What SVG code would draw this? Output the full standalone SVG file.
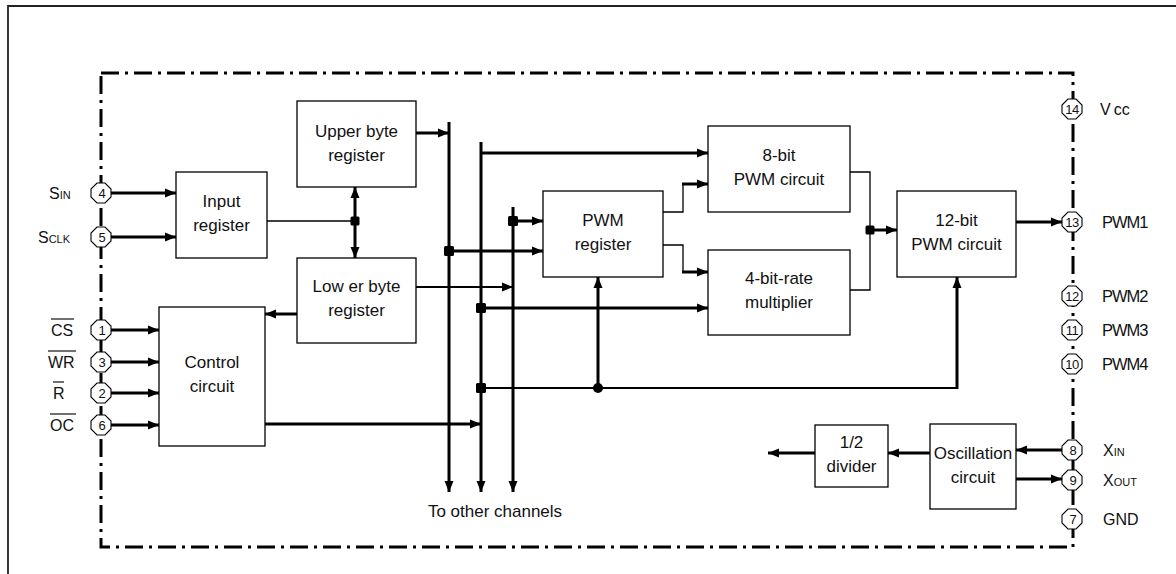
<svg xmlns="http://www.w3.org/2000/svg" width="1176" height="574" viewBox="0 0 1176 574">
<style>
.box{fill:#fff;stroke:#000;stroke-width:1.3}
.t{font-family:"Liberation Sans",Arial,sans-serif;font-size:17px;fill:#111;text-anchor:middle}
.lbl{font-family:"Liberation Sans",Arial,sans-serif;font-size:16px;fill:#111}
.pw{font-size:16.5px;letter-spacing:-1px}
.pn{font-family:"Liberation Sans",Arial,sans-serif;font-size:13px;fill:#111;text-anchor:middle}
.pin{fill:#fff;stroke:#000;stroke-width:1.1}
.th{stroke:#000;stroke-width:3;fill:none}
.tn{stroke:#000;stroke-width:1.3;fill:none}
.md{stroke:#000;stroke-width:2;fill:none}
.arr{marker-end:url(#ah)}
.dot{fill:#000}
.ol{stroke:#111;stroke-width:1.2}
</style>
<defs>
<marker id="ah" markerUnits="userSpaceOnUse" markerWidth="12" markerHeight="10" refX="11" refY="5" orient="auto-start-reverse">
<path d="M0,0.5 L11,5 L0,9.5 z" fill="#000"/>
</marker>
<polygon id="oct" class="pin" points="-4,-10 4,-10 10,-4 10,4 4,10 -4,10 -10,4 -10,-4"/>
</defs>
<path d="M8,574 V6 H1176" fill="none" stroke="#222" stroke-width="1.8"/>
<path id="frame" d="M101,73 H1073 V547 H101 Z" fill="none" stroke="#000" stroke-width="3" stroke-dasharray="18 6 3 6"/>

<g id="connectors">
<line class="th arr" x1="111" y1="193" x2="176" y2="193"/>
<line class="th arr" x1="111" y1="237" x2="176" y2="237"/>
<line class="th arr" x1="111" y1="330" x2="159" y2="330"/>
<line class="th arr" x1="111" y1="362" x2="159" y2="362"/>
<line class="th arr" x1="111" y1="393" x2="159" y2="393"/>
<line class="th arr" x1="111" y1="425" x2="159" y2="425"/>
<line class="tn" x1="267" y1="221" x2="355" y2="221"/>
<line class="th arr" x1="355" y1="221" x2="355" y2="187"/>
<line class="th arr" x1="355" y1="221" x2="355" y2="258"/>
<rect class="dot" x="350.5" y="216.5" width="9" height="9" rx="1.5"/>
<line class="th arr" x1="297" y1="314" x2="265" y2="314"/>
<line class="th arr" x1="416" y1="133" x2="449" y2="133"/>
<line class="th arr" x1="449" y1="122" x2="449" y2="492"/>
<line class="th arr" x1="481" y1="142" x2="481" y2="492"/>
<line class="th arr" x1="513" y1="207" x2="513" y2="492"/>
<line class="th arr" x1="481" y1="153" x2="708" y2="153"/>
<line class="th arr" x1="449" y1="251" x2="543" y2="251"/>
<rect class="dot" x="444" y="246" width="10" height="10" rx="1.5"/>
<line class="th arr" x1="513" y1="221" x2="543" y2="221"/>
<rect class="dot" x="508" y="216" width="10" height="10" rx="1.5"/>
<line class="md arr" x1="416" y1="287" x2="513" y2="287"/>
<line class="th arr" x1="481" y1="308" x2="708" y2="308"/>
<rect class="dot" x="476" y="303" width="10" height="10" rx="1.5"/>
<polyline class="md" points="481,388 957,388"/>
<line class="th arr" x1="957" y1="389" x2="957" y2="277"/>
<rect class="dot" x="476" y="383" width="10" height="10" rx="1.5"/>
<line class="th arr" x1="598" y1="388" x2="598" y2="277"/>
<circle class="dot" cx="598" cy="388" r="5"/>
<line class="th arr" x1="265" y1="424" x2="481" y2="424"/>
<polyline class="tn" points="663,212 683,212 683,184"/>
<line class="th arr" x1="682" y1="184" x2="708" y2="184"/>
<polyline class="tn" points="663,245 683,245 683,272"/>
<line class="th arr" x1="682" y1="272" x2="708" y2="272"/>
<polyline class="tn" points="850,172 870,172 870,290 850,290"/>
<line class="th arr" x1="870" y1="230" x2="897" y2="230"/>
<rect class="dot" x="865.5" y="225.5" width="9" height="9" rx="1.5"/>
<line class="th arr" x1="1016" y1="222" x2="1062" y2="222"/>
<line class="th arr" x1="1062" y1="450" x2="1016" y2="450"/>
<line class="th arr" x1="1014" y1="479" x2="1062" y2="479"/>
<line class="th arr" x1="930" y1="453" x2="888" y2="453"/>
<line class="th arr" x1="815" y1="453" x2="768" y2="453"/>
</g>

<g id="upper-byte-register"><rect class="box" x="297" y="101" width="119" height="86"/><text class="t" x="356.5" y="137">Upper byte</text><text class="t" x="356.5" y="161">register</text></g>
<g id="input-register"><rect class="box" x="176" y="172" width="91" height="86"/><text class="t" x="221.5" y="207">Input</text><text class="t" x="221.5" y="231">register</text></g>
<g id="lower-byte-register"><rect class="box" x="297" y="258" width="119" height="85"/><text class="t" x="356.5" y="292">Low er byte</text><text class="t" x="356.5" y="316">register</text></g>
<g id="control-circuit"><rect class="box" x="159" y="307" width="106" height="139"/><text class="t" x="212" y="368">Control</text><text class="t" x="212" y="392">circuit</text></g>
<g id="pwm-register"><rect class="box" x="543" y="191" width="120" height="86"/><text class="t" x="603" y="226">PWM</text><text class="t" x="603" y="250">register</text></g>
<g id="pwm8"><rect class="box" x="708" y="126" width="142" height="86"/><text class="t" x="779" y="161">8-bit</text><text class="t" x="779" y="185">PWM circuit</text></g>
<g id="rate-multiplier"><rect class="box" x="708" y="250" width="142" height="85"/><text class="t" x="779" y="284">4-bit-rate</text><text class="t" x="779" y="308">multiplier</text></g>
<g id="pwm12"><rect class="box" x="897" y="191" width="119" height="86"/><text class="t" x="956.5" y="226">12-bit</text><text class="t" x="956.5" y="250">PWM circuit</text></g>
<g id="divider"><rect class="box" x="815" y="425" width="73" height="62"/><text class="t" x="851.5" y="448">1/2</text><text class="t" x="851.5" y="472">divider</text></g>
<g id="oscillation"><rect class="box" x="930" y="424" width="86" height="85"/><text class="t" x="973" y="459">Oscillation</text><text class="t" x="973" y="483">circuit</text></g>

<g id="pin4"><use href="#oct" x="101" y="193"/><text class="pn" x="102" y="197.5">4</text><text class="lbl" x="49" y="199">S<tspan font-size="11">IN</tspan></text></g>
<g id="pin5"><use href="#oct" x="101" y="237"/><text class="pn" x="102" y="241.5">5</text><text class="lbl" x="38" y="243">S<tspan font-size="11">CLK</tspan></text></g>
<g id="pin1"><use href="#oct" x="101" y="330"/><text class="pn" x="102" y="334.5">1</text><text class="lbl" x="51" y="336">CS</text><line class="ol" x1="51" y1="319" x2="74" y2="319"/></g>
<g id="pin3"><use href="#oct" x="101" y="362"/><text class="pn" x="102" y="366.5">3</text><text class="lbl" x="48" y="368">WR</text><line class="ol" x1="48" y1="351" x2="76" y2="351"/></g>
<g id="pin2"><use href="#oct" x="101" y="393"/><text class="pn" x="102" y="397.5">2</text><text class="lbl" x="53" y="399">R</text><line class="ol" x1="53" y1="382" x2="64" y2="382"/></g>
<g id="pin6"><use href="#oct" x="101" y="425"/><text class="pn" x="102" y="429.5">6</text><text class="lbl" x="50" y="431">OC</text><line class="ol" x1="50" y1="414" x2="76" y2="414"/></g>

<g id="pin14"><use href="#oct" x="1072" y="109"/><text class="pn" x="1072" y="113.5" font-size="12" letter-spacing="-0.5">14</text><text class="lbl" x="1100" y="115">V<tspan dx="3">cc</tspan></text></g>
<g id="pin13"><use href="#oct" x="1072" y="222"/><text class="pn" x="1072" y="226.5" font-size="12" letter-spacing="-0.5">13</text><text class="lbl pw" x="1102" y="228">PWM1</text></g>
<g id="pin12"><use href="#oct" x="1072" y="296"/><text class="pn" x="1072" y="300.5" font-size="12" letter-spacing="-0.5">12</text><text class="lbl pw" x="1102" y="302">PWM2</text></g>
<g id="pin11"><use href="#oct" x="1072" y="330"/><text class="pn" x="1072" y="334.5" font-size="12" letter-spacing="-0.5">11</text><text class="lbl pw" x="1102" y="336">PWM3</text></g>
<g id="pin10"><use href="#oct" x="1072" y="364"/><text class="pn" x="1072" y="368.5" font-size="12" letter-spacing="-0.5">10</text><text class="lbl pw" x="1102" y="370">PWM4</text></g>
<g id="pin8"><use href="#oct" x="1072" y="450"/><text class="pn" x="1073" y="454.5">8</text><text class="lbl" x="1103" y="456">X<tspan font-size="11">IN</tspan></text></g>
<g id="pin9"><use href="#oct" x="1072" y="480"/><text class="pn" x="1073" y="484.5">9</text><text class="lbl" x="1103" y="486">X<tspan font-size="11">OUT</tspan></text></g>
<g id="pin7"><use href="#oct" x="1072" y="519"/><text class="pn" x="1073" y="523.5">7</text><text class="lbl" x="1103" y="525">GND</text></g>

<text class="t" x="495" y="517">To other channels</text>
</svg>
